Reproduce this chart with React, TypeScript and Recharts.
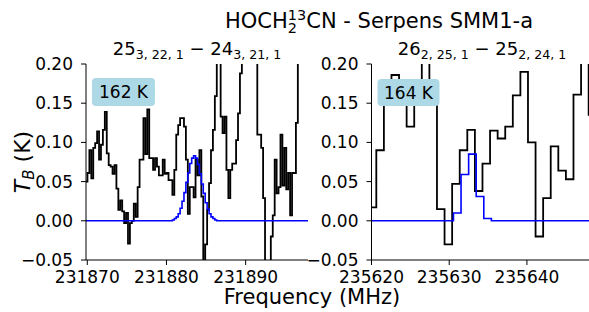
import React from 'react';
import { LineChart, Line, XAxis, YAxis } from 'recharts';

// ---------- data ----------
const leftFreqStart = 231869.659; // MHz, first channel centre
const leftChanWidth = 0.2437; // MHz
const leftObs = [
  0.050, 0.050, 0.061, 0.090, 0.054, 0.093, 0.099, 0.114, 0.078, 0.097,
  0.116, 0.139, 0.086, 0.071, 0.069, 0.060, 0.071, 0.041, 0.014, 0.026,
  0.012, -0.003, 0.010, -0.029, -0.003, 0.000, 0.022, 0.005, 0.043, 0.078,
  0.078, 0.131, 0.085, 0.142, 0.080, 0.080, 0.065, 0.080, 0.069, 0.058,
  0.058, 0.078, 0.060, 0.061, 0.052, 0.052, 0.033, 0.065, 0.110, 0.122,
  0.131, 0.131, 0.120, 0.078, 0.009, 0.043, 0.043, 0.030, 0.078, 0.058,
  0.090, 0.031, -0.080, -0.030, 0.014, 0.048, 0.090, 0.116, 0.159, 0.260,
  0.240, 0.133, 0.112, 0.133, 0.065, 0.029, 0.065, 0.073, 0.073, 0.103,
  0.137, 0.188, 0.250, 0.300, 0.320, 0.300, 0.280, 0.290, 0.260, 0.230,
  0.110, 0.110, 0.093, 0.029, -0.080, -0.090, -0.070, -0.020, 0.007, 0.078,
  0.035, 0.043, 0.110, 0.045, 0.093, 0.040, 0.061, 0.007, 0.061, 0.061,
  0.125, 0.250, 0.280, 0.300, 0.300, 0.290, 0.280,
];
const leftModel = [
  0, 0, 0, 0, 0, 0, 0, 0, 0, 0,
  0, 0, 0, 0, 0, 0, 0, 0, 0, 0,
  0, 0, 0, 0, 0, 0, 0, 0, 0, 0,
  0, 0, 0, 0, 0, 0, 0, 0, 0, 0,
  0, 0, 0, 0, 0, 0, 0.001, 0.003, 0.005, 0.009,
  0.016, 0.025, 0.036, 0.049, 0.061, 0.073, 0.080, 0.083, 0.080, 0.072,
  0.060, 0.047, 0.035, 0.023, 0.015, 0.009, 0.005, 0.003, 0.001, 0,
  0, 0, 0, 0, 0, 0, 0, 0, 0, 0,
  0, 0, 0, 0, 0, 0, 0, 0, 0, 0,
  0, 0, 0, 0, 0, 0, 0, 0, 0, 0,
  0, 0, 0, 0, 0, 0, 0, 0, 0, 0,
  0, 0, 0, 0, 0, 0, 0,
];

const rightFreqStart = 235619.154;
const rightModelFreqStart = 235619.324;
const rightChanWidth = 0.976;
const rightObs = [
  0.017, 0.017, 0.090, 0.160, 0.186, 0.160, 0.120, 0.170, 0.240, 0.165,
  0.015, -0.030, 0.047, 0.090, 0.116, 0.038, 0.073, 0.115, 0.105, 0.120,
  0.160, 0.190, 0.100, -0.020, 0.029, 0.095, 0.064, 0.053, 0.161, 0.240,
  0.135, 0.130,
];
const rightModel = [
  0, 0, 0, 0, 0, 0, 0, 0, 0, 0,
  0, 0, 0.010, 0.059, 0.085, 0.031, 0.003, 0, 0, 0,
  0, 0, 0, 0, 0, 0, 0, 0, 0, 0,
  0, 0,
];

const leftDomain: [number, number] = [231869.84, 231897.87];
const rightDomain: [number, number] = [235620.0, 235648.57];
const leftTicks = [231870, 231880, 231890];
const rightTicks = [235620, 235630, 235640];
const yTicks = [-0.05, 0, 0.05, 0.1, 0.15, 0.2];
const yDomain: [number, number] = [-0.05, 0.2];

const leftData = leftObs.map((v, i) => ({
  f: leftFreqStart + i * leftChanWidth,
  obs: v,
  model: leftModel[i],
}));
const rightData = rightObs.map((v, i) => ({
  f: rightFreqStart + i * rightChanWidth,
  obs: v,
}));
const rightModelData = rightModel.map((v, i) => ({
  f: rightModelFreqStart + i * rightChanWidth,
  model: v,
}));

// ---------- styling ----------
const FONT = 'DejaVu Sans, Liberation Sans, sans-serif';
const tickStyle = { fill: '#000', fontSize: 17, fontFamily: FONT };
const yFmt = (v: number) => (v < 0 ? '\u2212' : '') + Math.abs(v).toFixed(2);

function Panel(props: {
  data: any[];
  domain: [number, number];
  ticks: number[];
  width: number;
  marginLeft: number;
  marginRight: number;
  modelData?: any[];
}) {
  const { data, domain, ticks, width, marginLeft, marginRight, modelData } = props;
  return (
    <LineChart
      width={width}
      height={312}
      data={data}
      margin={{ top: 64, right: marginRight, bottom: 22, left: marginLeft }}
    >
      <XAxis
        dataKey="f"
        type="number"
        domain={domain}
        allowDataOverflow
        ticks={ticks}
        height={30}
        tickSize={5}
        tickMargin={6}
        tick={tickStyle}
        tickLine={{ stroke: '#000' }}
        axisLine={{ stroke: '#000' }}
        interval={0}
      />
      <XAxis
        xAxisId="top"
        orientation="top"
        dataKey="f"
        type="number"
        domain={domain}
        allowDataOverflow
        height={0}
        tick={false}
        tickLine={false}
        axisLine={{ stroke: '#000' }}
      />
      <YAxis
        type="number"
        domain={yDomain}
        allowDataOverflow
        ticks={yTicks}
        width={40}
        tickSize={5}
        tickMargin={8}
        tick={tickStyle}
        tickFormatter={yFmt}
        tickLine={{ stroke: '#000' }}
        axisLine={{ stroke: '#000' }}
        interval={0}
      />
      <YAxis
        yAxisId="right"
        orientation="right"
        type="number"
        domain={yDomain}
        allowDataOverflow
        width={0}
        tick={false}
        tickLine={false}
        axisLine={{ stroke: '#000' }}
      />
      <Line
        dataKey="obs"
        type="step"
        stroke="#000"
        strokeWidth={1.8}
        dot={false}
        isAnimationActive={false}
      />
      {modelData ? (
        <Line
          data={modelData}
          dataKey="model"
          type="step"
          stroke="#0000ff"
          strokeWidth={1.6}
          dot={false}
          isAnimationActive={false}
        />
      ) : (
        <Line
          dataKey="model"
          type="step"
          stroke="#0000ff"
          strokeWidth={1.6}
          dot={false}
          isAnimationActive={false}
        />
      )}
    </LineChart>
  );
}

export default function App() {
  return (
    <div
      style={{
        position: 'absolute',
        left: 0,
        top: 0,
        width: 589,
        height: 312,
        overflow: 'hidden',
        background: '#fff',
        fontFamily: FONT,
      }}
    >
      <div style={{ position: 'absolute', left: 0, top: 0 }}>
        <Panel
          data={leftData}
          domain={leftDomain}
          ticks={leftTicks}
          width={310}
          marginLeft={46}
          marginRight={2}
        />
      </div>
      <div style={{ position: 'absolute', left: 300, top: 0 }}>
        <Panel
          data={rightData}
          modelData={rightModelData}
          domain={rightDomain}
          ticks={rightTicks}
          width={296}
          marginLeft={31.5}
          marginRight={2.5}
        />
      </div>
      <svg
        width={589}
        height={312}
        style={{ position: 'absolute', left: 0, top: 0, pointerEvents: 'none' }}
        fontFamily={FONT}
      >
        {/* suptitle */}
        <text x={379} y={28} textAnchor="middle" fontSize={21} fill="#000">
          HOCH
          <tspan fontSize={14.5} dy={5}>2</tspan>
          <tspan fontSize={14.5} dx={-9.2} dy={-13}>13</tspan>
          <tspan dy={8}>CN - Serpens SMM1-a</tspan>
        </text>
        {/* panel titles */}
        <text x={197} y={55} textAnchor="middle" fontSize={18} fill="#000">
          25
          <tspan fontSize={12.6} dy={4}>3, 22, 1</tspan>
          <tspan dy={-4}> {'\u2212'} 24</tspan>
          <tspan fontSize={12.6} dy={4}>3, 21, 1</tspan>
        </text>
        <text x={482} y={55} textAnchor="middle" fontSize={18} fill="#000">
          26
          <tspan fontSize={12.6} dy={4}>2, 25, 1</tspan>
          <tspan dy={-4}> {'\u2212'} 25</tspan>
          <tspan fontSize={12.6} dy={4}>2, 24, 1</tspan>
        </text>
        {/* badges */}
        <rect x={92} y={78} width={63} height={28} rx={4} fill="#add8e6" />
        <text x={123.5} y={98} textAnchor="middle" fontSize={17} fill="#000">162 K</text>
        <rect x={377.5} y={79} width={62} height={27} rx={4} fill="#add8e6" />
        <text x={408.5} y={99} textAnchor="middle" fontSize={17} fill="#000">164 K</text>
        {/* axis labels */}
        <text
          x={30}
          y={162}
          textAnchor="middle"
          fontSize={22}
          fill="#000"
          transform="rotate(-90 30 162)"
        >
          <tspan fontStyle="italic">T</tspan>
          <tspan fontStyle="italic" fontSize={15} dy={4}>B</tspan>
          <tspan dy={-4}> (K)</tspan>
        </text>
        <text x={312} y={304} textAnchor="middle" fontSize={21} fill="#000">
          Frequency (MHz)
        </text>
      </svg>
    </div>
  );
}
